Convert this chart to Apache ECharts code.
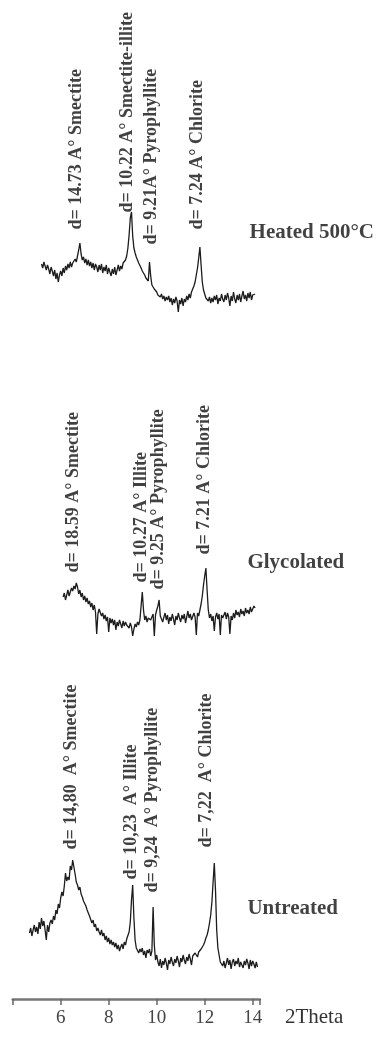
<!DOCTYPE html>
<html>
<head>
<meta charset="utf-8">
<script src="https://cdn.jsdelivr.net/npm/echarts@6/dist/echarts.min.js"></script>
<style>
  html, body { margin: 0; padding: 0; background: #fff; }
  #chart { width: 384px; height: 1039px; }
</style>
</head>
<body>
<div id="chart"></div>
<script>
// 2Theta sampling of the three diffractograms
const STEP = 0.05;
const heatedStart = 5.2;
const glycolatedStart = 6.1;
const untreatedStart = 4.7;

// intensities (arbitrary units)
const heatedCounts = [
  56, 52, 58, 54, 50, 55, 51, 46, 53, 49,
  44, 50, 41, 47, 38, 45, 49, 44, 52, 47,
  54, 50, 56, 52, 58, 53, 57, 55, 61, 58,
  64, 70, 77, 66, 60, 63, 57, 61, 55, 60,
  54, 58, 52, 57, 50, 56, 53, 48, 55, 50,
  56, 47, 53, 49, 55, 46, 52, 48, 44, 51,
  46, 53, 45, 50, 55, 49, 54, 51, 57, 55,
  60, 64, 72, 85, 102, 108, 84, 72, 67, 63,
  60, 57, 55, 52, 49, 47, 45, 42, 40, 39,
  58, 44, 35, 33, 31, 29, 28, 25, 27, 23,
  26, 21, 24, 19, 23, 20, 24, 18, 22, 15,
  21, 17, 23, 19, 8, 20, 16, 22, 14, 21,
  18, 24, 20, 26, 22, 28, 30, 34, 38, 45,
  52, 62, 73, 55, 38, 30, 26, 22, 24, 19,
  23, 17, 22, 18, 24, 20, 25, 16, 22, 19,
  26, 21, 18, 25, 20, 27, 22, 14, 24, 19,
  28, 21, 17, 25, 20, 26, 18, 24, 29, 21,
  25, 19, 27, 22, 28, 20, 25, 23, 26
];

const glycolatedCounts = [
  43, 47, 40, 45, 50, 44, 48, 52, 49, 54,
  51, 57, 53, 46, 50, 43, 47, 40, 44, 38,
  42, 36, 39, 33, 37, 30, 35, 28, 6, 26,
  31, 29, 24, 27, 21, 25, 19, 23, 8, 22,
  17, 21, 15, 20, 10, 18, 14, 20, 16, 12,
  19, 14, 18, 15, 16, 12, 17, 13, 4, 11,
  16, 13, 18, 15, 20, 22, 48, 30, 20, 24,
  18, 22, 24, 20, 20, 26, 4, 25, 30, 34,
  40, 24, 21, 18, 23, 27, 20, 25, 16, 23,
  19, 26, 21, 15, 24, 20, 27, 22, 18, 25,
  21, 26, 17, 23, 29, 22, 26, 20, 20, 27,
  23, 5, 27, 24, 30, 36, 44, 55, 64, 72,
  50, 30, 22, 26, 19, 24, 9, 23, 27, 21,
  26, 5, 25, 22, 22, 28, 21, 27, 23, 6,
  24, 20, 27, 22, 30, 25, 28, 23, 31, 26,
  29, 24, 32, 27, 30, 26, 33, 28, 31, 34,
  32
];

const untreatedCounts = [
  47, 52, 44, 50, 55, 48, 53, 46, 58, 51,
  62, 54, 59, 50, 40, 55, 48, 57, 60, 56,
  64, 60, 70, 66, 76, 72, 82, 88, 84, 94,
  107, 99, 103, 100, 114, 110, 120, 113, 106, 98,
  95, 90, 93, 86, 83, 79, 81, 74, 70, 72,
  64, 66, 57, 60, 53, 56, 49, 52, 48, 45,
  50, 44, 47, 40, 44, 38, 42, 36, 40, 35,
  38, 33, 37, 31, 35, 29, 33, 36, 31, 38,
  35, 41, 43, 48, 58, 80, 95, 62, 40, 32,
  30, 27, 31, 28, 32, 25, 29, 22, 30, 27,
  31, 24, 29, 73, 35, 20, 25, 18, 14, 21,
  12, 19, 15, 22, 17, 10, 20, 16, 23, 18,
  14, 21, 17, 24, 19, 13, 22, 18, 25, 20,
  16, 23, 19, 26, 21, 15, 24, 22, 27, 25,
  23, 28, 26, 31, 30, 35, 38, 42, 45, 50,
  57, 65, 78, 98, 117, 90, 50, 32, 25, 18,
  20, 14, 19, 12, 17, 22, 15, 20, 11, 18,
  21, 14, 19, 16, 22, 13, 18, 20, 12, 19,
  15, 21, 17, 11, 20, 14, 19, 16, 12, 18,
  13
];

const sampleNames = ['Heated 500°C', 'Glycolated', 'Untreated'];

const heatedLabels = ['d= 14.73 A° Smectite', 'd= 10.22 A° Smectite-illite', 'd= 9.21A° Pyrophyllite', 'd= 7.24 A° Chlorite'];
const glycolatedLabels = ['d= 18.59 A° Smectite', 'd= 10.27 A° Illite', 'd= 9.25 A° Pyrophyllite', 'd= 7.21 A° Chlorite'];
const untreatedLabels = ['d= 14,80  A° Smectite', 'd= 10,23  A° Illite', 'd= 9,24  A° Pyrophyllite', 'd= 7,22  A° Chlorite'];

const xTicks = [6, 8, 10, 12, 14];

// layout: vertical stacking offsets and label anchors (axis units)
const traceOffsets = [679, 359, 19];
const heatedLabelPos = [[6.68, 769], [8.80, 786], [9.80, 754], [11.72, 769]];
const glycolatedLabelPos = [[6.55, 426], [9.39, 416], [10.10, 409], [12.01, 444]];
const untreatedLabelPos = [[6.47, 149], [8.97, 119], [9.85, 106], [12.10, 151]];
const sampleNamePos = [[13.89, 766], [13.80, 436], [13.80, 90]];

const SERIF = "'Liberation Serif', 'Times New Roman', serif";
const INK = '#111';

function toPoints(start, counts, offset) {
  return counts.map((c, i) => [+(start + i * STEP).toFixed(2), c + offset]);
}

function traceSeries(start, counts, offset) {
  return {
    type: 'line',
    data: toPoints(start, counts, offset),
    showSymbol: false,
    symbol: 'none',
    silent: true,
    lineStyle: { color: '#1c1c1c', width: 1.3 },
  };
}

function peakLabelSeries(pos, texts) {
  return {
    type: 'scatter',
    symbolSize: 1,
    silent: true,
    itemStyle: { color: 'transparent' },
    data: pos.map((p, i) => ({ value: p, name: texts[i] })),
    label: {
      show: true,
      position: [0, 0],
      rotate: 90,
      align: 'left',
      verticalAlign: 'middle',
      formatter: '{b}',
      fontFamily: SERIF,
      fontWeight: 'bold',
      fontSize: 18,
      color: INK,
    },
  };
}

const chart = echarts.init(document.getElementById('chart'), null, { renderer: 'canvas' });

chart.setOption({
  animation: false,
  backgroundColor: '#fff',
  grid: { left: 12.7, right: 124.1, top: 0, bottom: 40, containLabel: false },
  xAxis: {
    type: 'value',
    min: 4,
    max: 14.3,
    interval: 2,
    name: '2Theta',
    nameLocation: 'end',
    nameGap: 25,
    nameTextStyle: {
      fontFamily: SERIF,
      fontSize: 21,
      color: '#333',
      verticalAlign: 'top',
      align: 'left',
      padding: [8, 0, 0, 0],
    },
    axisLine: { show: true, onZero: false, lineStyle: { color: '#777', width: 2.5 } },
    axisTick: { show: true, length: 6, lineStyle: { color: '#666', width: 1.5 } },
    axisLabel: {
      margin: 10,
      fontFamily: SERIF,
      fontSize: 19,
      color: '#444',
      formatter: (v) => (xTicks.includes(v) ? String(v) : ''),
    },
    splitLine: { show: false },
  },
  yAxis: { type: 'value', min: 0, max: 999, show: false },
  series: [
    traceSeries(heatedStart, heatedCounts, traceOffsets[0]),
    traceSeries(glycolatedStart, glycolatedCounts, traceOffsets[1]),
    traceSeries(untreatedStart, untreatedCounts, traceOffsets[2]),
    peakLabelSeries(heatedLabelPos, heatedLabels),
    peakLabelSeries(glycolatedLabelPos, glycolatedLabels),
    peakLabelSeries(untreatedLabelPos, untreatedLabels),
    {
      type: 'scatter',
      symbolSize: 1,
      silent: true,
      itemStyle: { color: 'transparent' },
      data: sampleNamePos.map((p, i) => ({ value: p, name: sampleNames[i] })),
      label: {
        show: true,
        position: [0, 0],
        align: 'left',
        verticalAlign: 'middle',
        formatter: '{b}',
        fontFamily: SERIF,
        fontWeight: 'bold',
        fontSize: 21,
        color: INK,
      },
    },
  ],
});
</script>
</body>
</html>
